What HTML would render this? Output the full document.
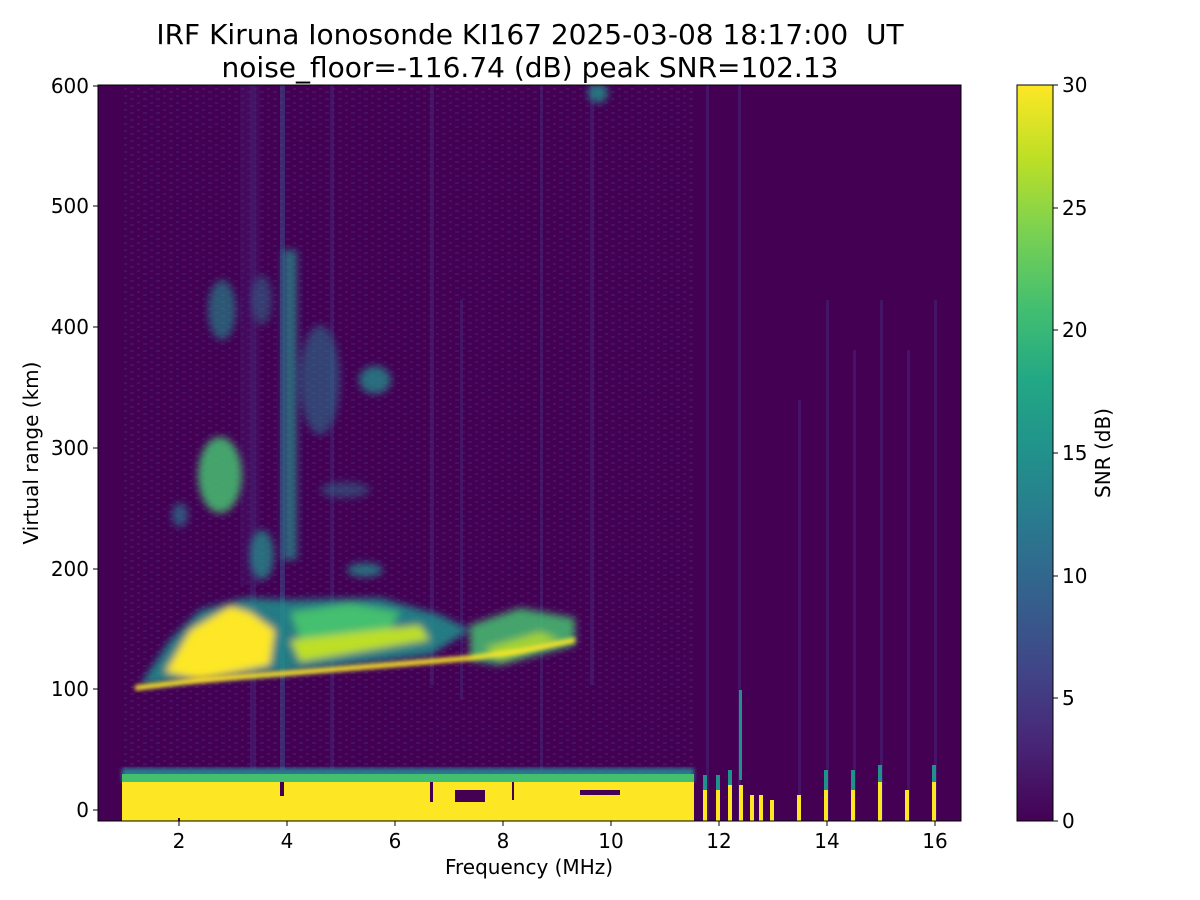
<!DOCTYPE html>
<html><head><meta charset="utf-8"><style>
html,body{margin:0;padding:0;background:#fff;}
svg{display:block;font-family:"DejaVu Sans","Liberation Sans",sans-serif;}
</style></head><body>
<svg width="1200" height="900" viewBox="0 0 1200 900">
<defs>
<linearGradient id="vir" x1="0" y1="1" x2="0" y2="0">
<stop offset="0" stop-color="#440154"/><stop offset="0.1" stop-color="#482475"/>
<stop offset="0.2" stop-color="#414487"/><stop offset="0.3" stop-color="#355f8d"/>
<stop offset="0.4" stop-color="#2a788e"/><stop offset="0.5" stop-color="#21918c"/>
<stop offset="0.6" stop-color="#22a884"/><stop offset="0.7" stop-color="#44bf70"/>
<stop offset="0.8" stop-color="#7ad151"/><stop offset="0.9" stop-color="#bddf26"/>
<stop offset="1" stop-color="#fde725"/></linearGradient>
<filter id="b2"><feGaussianBlur stdDeviation="2"/></filter>
<filter id="b4"><feGaussianBlur stdDeviation="4"/></filter>
<pattern id="nz" width="13" height="7" patternUnits="userSpaceOnUse">
<rect x="0" y="0" width="4" height="2" fill="#482475" opacity="0.5"/>
<rect x="7" y="4" width="3" height="2" fill="#472c7a" opacity="0.4"/>
</pattern>
<clipPath id="cp"><rect x="98" y="85" width="863" height="736"/></clipPath>
</defs>
<text x="530" y="44" font-size="28" text-anchor="middle" fill="#000">IRF Kiruna Ionosonde KI167 2025-03-08 18:17:00&#160; UT</text>
<text x="530" y="77" font-size="28" text-anchor="middle" fill="#000">noise_floor=-116.74 (dB) peak SNR=102.13</text>
<g clip-path="url(#cp)">
<rect x="98" y="85" width="863" height="736" fill="#440154"/>
<rect x="122" y="85" width="572" height="690" fill="url(#nz)"/>
<g fill="#482475" opacity="0.55">
<rect x="240" y="85" width="20" height="500" opacity="0.5"/><rect x="250" y="85" width="6" height="736"/>
<rect x="280" y="85" width="5" height="736" fill="#3e4a89"/><rect x="330" y="85" width="4" height="700"/>
<rect x="430" y="85" width="4" height="600"/><rect x="460" y="300" width="3" height="400"/>
<rect x="540" y="85" width="3" height="700"/><rect x="590" y="85" width="4" height="600"/>
<rect x="706" y="85" width="3" height="736"/><rect x="738" y="85" width="3" height="736"/>
<rect x="798" y="400" width="3" height="420"/><rect x="826" y="300" width="3" height="520"/>
<rect x="853" y="350" width="3" height="470"/><rect x="880" y="300" width="3" height="520"/>
<rect x="907" y="350" width="3" height="470"/><rect x="934" y="300" width="3" height="520"/>
</g>
<g filter="url(#b4)">
<ellipse cx="220" cy="475" rx="22" ry="38" fill="#44bf70" opacity="0.85"/>
<ellipse cx="180" cy="515" rx="8" ry="12" fill="#2a788e" opacity="0.7"/>
<ellipse cx="222" cy="310" rx="14" ry="30" fill="#21918c" opacity="0.6"/>
<ellipse cx="262" cy="300" rx="10" ry="25" fill="#2a788e" opacity="0.5"/>
<ellipse cx="262" cy="555" rx="12" ry="25" fill="#21918c" opacity="0.75"/>
<rect x="283" y="250" width="14" height="310" fill="#21918c" opacity="0.7"/>
<ellipse cx="320" cy="380" rx="20" ry="55" fill="#2a788e" opacity="0.55"/>
<ellipse cx="375" cy="380" rx="16" ry="14" fill="#21918c" opacity="0.75"/>
<ellipse cx="365" cy="570" rx="18" ry="7" fill="#21918c" opacity="0.75"/>
<ellipse cx="345" cy="490" rx="25" ry="8" fill="#2a788e" opacity="0.5"/>
<ellipse cx="598" cy="93" rx="10" ry="10" fill="#21918c" opacity="0.8"/>
</g>
<g filter="url(#b4)">
<polygon points="140,685 170,640 200,610 245,598 290,600 380,598 440,615 470,630 430,655 290,672 200,680" fill="#21918c" opacity="0.85"/>
<polygon points="165,672 190,630 230,606 250,612 275,630 270,665 200,680" fill="#fde725"/>
<polygon points="290,612 350,603 400,612 390,630 300,640" fill="#44bf70"/>
<polygon points="290,640 420,625 430,640 300,662" fill="#bddf26"/>
<polygon points="470,625 520,608 575,618 575,645 500,665 470,660" fill="#44bf70" opacity="0.85"/>
<polygon points="485,648 540,632 560,640 500,660" fill="#bddf26" opacity="0.8"/>
</g>
<polyline points="135,688 200,680 290,673 400,664 470,658 520,651 575,640" fill="none" stroke="#fde725" stroke-width="5" filter="url(#b2)"/>
<rect x="122" y="768" width="572" height="14" fill="#2a788e" filter="url(#b2)"/>
<rect x="122" y="774" width="572" height="8" fill="#44bf70"/>
<rect x="122" y="782" width="572" height="39" fill="#fde725"/>
<g fill="#440154">
<rect x="178" y="818" width="2" height="3"/><rect x="280" y="782" width="4" height="14"/>
<rect x="430" y="782" width="3" height="20"/><rect x="455" y="790" width="30" height="12"/>
<rect x="512" y="782" width="2" height="18"/><rect x="580" y="790" width="40" height="5"/>
</g>
<g fill="#fde725">
<rect x="703" y="790" width="4" height="31"/><rect x="716" y="790" width="4" height="31"/>
<rect x="728" y="785" width="4" height="36"/><rect x="739" y="785" width="4" height="36"/>
<rect x="750" y="795" width="4" height="26"/><rect x="759" y="795" width="4" height="26"/>
<rect x="770" y="800" width="4" height="21"/><rect x="797" y="795" width="4" height="26"/>
<rect x="824" y="790" width="4" height="31"/><rect x="851" y="790" width="4" height="31"/>
<rect x="878" y="782" width="4" height="39"/><rect x="905" y="790" width="4" height="31"/>
<rect x="932" y="782" width="4" height="39"/>
</g>
<g fill="#21918c">
<rect x="739" y="690" width="3" height="90"/><rect x="703" y="775" width="4" height="15"/>
<rect x="716" y="775" width="4" height="15"/><rect x="728" y="770" width="4" height="15"/>
<rect x="824" y="770" width="4" height="20"/><rect x="878" y="765" width="4" height="17"/>
<rect x="932" y="765" width="4" height="17"/><rect x="851" y="770" width="4" height="20"/>
</g>
</g>
<rect x="98" y="85" width="863" height="736" fill="none" stroke="#000" stroke-width="1"/>
<g stroke="#000"><line x1="179" y1="821" x2="179" y2="826"/><line x1="287" y1="821" x2="287" y2="826"/><line x1="395" y1="821" x2="395" y2="826"/><line x1="503" y1="821" x2="503" y2="826"/><line x1="611" y1="821" x2="611" y2="826"/><line x1="719" y1="821" x2="719" y2="826"/><line x1="827" y1="821" x2="827" y2="826"/><line x1="935" y1="821" x2="935" y2="826"/></g>
<g font-size="20" text-anchor="middle"><text x="179" y="848">2</text><text x="287" y="848">4</text><text x="395" y="848">6</text><text x="503" y="848">8</text><text x="611" y="848">10</text><text x="719" y="848">12</text><text x="827" y="848">14</text><text x="935" y="848">16</text></g>
<text x="529" y="874" font-size="20" text-anchor="middle">Frequency (MHz)</text>
<g stroke="#000"><line x1="93" y1="810" x2="98" y2="810"/><line x1="93" y1="689" x2="98" y2="689"/><line x1="93" y1="569" x2="98" y2="569"/><line x1="93" y1="448" x2="98" y2="448"/><line x1="93" y1="327" x2="98" y2="327"/><line x1="93" y1="206" x2="98" y2="206"/><line x1="93" y1="86" x2="98" y2="86"/></g>
<g font-size="20" text-anchor="end"><text x="89" y="817">0</text><text x="89" y="696">100</text><text x="89" y="576">200</text><text x="89" y="455">300</text><text x="89" y="334">400</text><text x="89" y="213">500</text><text x="89" y="93">600</text></g>
<text transform="translate(38,453) rotate(-90)" font-size="20" text-anchor="middle">Virtual range (km)</text>
<rect x="1017" y="85" width="36" height="736" fill="url(#vir)" stroke="#000" stroke-width="1"/>
<g stroke="#000"><line x1="1053" y1="821" x2="1058" y2="821"/><line x1="1053" y1="698" x2="1058" y2="698"/><line x1="1053" y1="576" x2="1058" y2="576"/><line x1="1053" y1="453" x2="1058" y2="453"/><line x1="1053" y1="330" x2="1058" y2="330"/><line x1="1053" y1="208" x2="1058" y2="208"/><line x1="1053" y1="85" x2="1058" y2="85"/></g>
<g font-size="20"><text x="1062" y="828">0</text><text x="1062" y="705">5</text><text x="1062" y="583">10</text><text x="1062" y="460">15</text><text x="1062" y="337">20</text><text x="1062" y="215">25</text><text x="1062" y="92">30</text></g>
<text transform="translate(1110,453) rotate(-90)" font-size="20" text-anchor="middle">SNR (dB)</text>
</svg>
</body></html>
